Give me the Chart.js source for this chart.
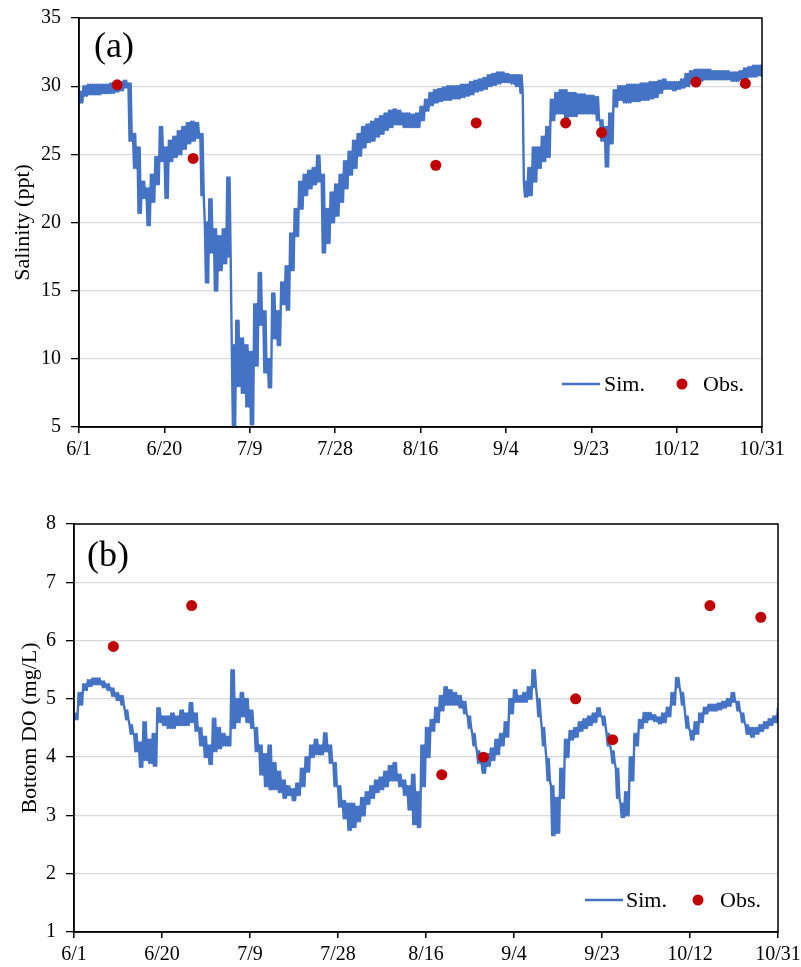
<!DOCTYPE html>
<html><head><meta charset="utf-8">
<script src="https://cdn.jsdelivr.net/npm/chart.js@4.4.1/dist/chart.umd.min.js"></script>
<style>
html,body{margin:0;padding:0;background:#fff;}
#wrap{position:relative;width:801px;height:967px;background:#fff;}
canvas{position:absolute;left:0;}
</style></head><body>
<div id="wrap">
<canvas id="ca" width="801" height="480" style="top:0px"></canvas>
<canvas id="cb" width="801" height="487" style="top:480px"></canvas>
</div>
<script>
// x-axis tick labels (every 19 days from 6/1)
const dateLabels = ['6/1','6/20','7/9','7/28','8/16','9/4','9/23','10/12','10/31'];
// observation days (days since 6/1)
const obsDays = [8.5, 25.4, 79.4, 88.4, 108.3, 116.3, 137.3, 148.3];
const obsSalinity = [30.1, 24.7, 24.2, 27.3, 27.3, 26.6, 30.3, 30.2];
const obsDO = [5.9, 6.6, 3.7, 4.0, 5.0, 4.3, 6.6, 6.4];

// simulated salinity, daily tidal high / low (day 0 .. 152)
const simSalHi = [29.6,30.0,30.1,30.1,30.1,30.1,30.1,30.2,30.2,30.3,30.4,
30.2,26.5,25.5,23.0,22.5,23.5,24.8,27.0,25.5,26.0,
26.3,26.7,27.0,27.3,27.4,27.3,26.5,20.0,21.7,19.5,
19.0,19.5,23.3,11.0,12.8,11.5,11.0,10.5,14.0,16.3,
13.5,10.0,14.8,13.5,15.6,16.8,19.2,21.0,23.0,23.5,
23.8,24.0,24.9,23.5,21.0,22.2,22.8,23.5,24.5,25.2,
26.0,26.5,27.0,27.2,27.4,27.6,27.8,28.0,28.2,28.3,
28.2,28.0,28.0,27.9,28.0,28.5,29.0,29.5,29.7,29.8,
29.9,30.0,30.0,30.0,30.1,30.1,30.3,30.4,30.5,30.6,
30.8,30.9,31.0,31.0,30.9,30.8,30.8,30.8,23.0,24.0,
25.5,25.5,26.3,27.0,29.0,29.5,29.7,29.7,29.5,29.5,
29.4,29.4,29.3,29.3,29.2,27.5,27.0,28.0,29.7,30.0,
30.0,30.1,30.1,30.1,30.2,30.2,30.3,30.3,30.4,30.5,
30.3,30.3,30.3,30.5,30.9,31.1,31.2,31.2,31.2,31.2,
31.1,31.1,31.1,31.1,31.0,31.0,31.1,31.3,31.4,31.5,
31.5,31.6];
const simSalLo = [28.8,29.3,29.4,29.4,29.4,29.5,29.5,29.5,29.6,29.7,29.9,
26.0,24.0,20.7,21.8,19.8,21.5,22.8,24.5,21.8,24.5,
24.8,25.0,25.4,25.8,26.0,26.2,22.0,15.6,17.8,15.0,
16.5,17.0,17.5,5.0,8.0,7.5,6.5,5.2,9.5,12.5,
9.0,7.9,11.5,11.0,14.0,13.6,16.5,19.0,21.0,22.0,
22.5,22.8,23.0,17.8,18.5,20.0,20.5,21.5,22.5,23.5,
24.0,24.9,25.5,25.9,26.0,26.3,26.5,26.8,27.0,27.2,
27.2,27.0,27.0,27.0,27.0,27.5,28.2,28.6,28.8,28.9,
29.0,29.0,29.1,29.1,29.2,29.3,29.4,29.6,29.7,29.8,
30.0,30.1,30.2,30.3,30.3,30.2,30.0,29.5,21.9,22.0,
23.0,24.0,24.5,24.8,27.5,28.0,28.0,27.5,27.8,27.8,
28.0,28.0,28.0,28.0,27.5,26.0,24.1,25.8,28.5,29.0,
28.8,28.8,28.9,28.9,29.0,29.0,29.1,29.2,29.5,29.8,
29.8,29.7,29.8,29.9,30.0,30.2,30.3,30.4,30.5,30.5,
30.5,30.5,30.5,30.5,30.4,30.4,30.5,30.6,30.7,30.7,
30.8,30.9];

// simulated bottom DO, daily tidal high / low (day 0 .. 152)
const simDOHi = [4.75,5.1,5.25,5.32,5.35,5.35,5.3,5.25,5.18,5.1,5.05,
4.8,4.55,4.4,4.25,4.6,4.3,4.4,4.84,4.7,4.7,
4.75,4.7,4.8,4.75,4.93,4.75,4.5,4.35,4.2,4.66,
4.5,4.4,4.35,5.49,5.0,5.1,5.0,4.8,4.5,4.2,
4.05,4.2,3.9,3.75,3.6,3.5,3.45,3.55,3.8,4.0,
4.2,4.3,4.2,4.41,4.2,3.9,3.5,3.25,3.2,3.2,
3.15,3.3,3.4,3.5,3.6,3.65,3.75,3.85,3.9,3.7,
3.6,3.5,3.7,3.4,4.2,4.5,4.64,4.85,5.05,5.2,
5.15,5.1,5.05,4.95,4.7,4.4,4.1,3.9,4.05,4.15,
4.3,4.4,4.6,5.0,5.15,5.05,5.1,5.2,5.49,5.0,
4.5,3.97,3.5,3.3,3.8,4.3,4.45,4.5,4.6,4.65,
4.7,4.75,4.84,4.7,4.4,4.1,3.8,3.2,3.4,4.0,
4.4,4.64,4.76,4.76,4.72,4.68,4.75,4.85,5.1,5.36,
5.1,4.7,4.45,4.6,4.75,4.85,4.9,4.9,4.92,4.95,
5.0,5.1,4.95,4.75,4.55,4.5,4.5,4.55,4.6,4.65,
4.7,4.85];
const simDOLo = [4.65,4.9,5.15,5.22,5.25,5.25,5.2,5.15,5.05,4.98,4.9,
4.65,4.4,4.1,3.83,3.95,3.9,3.85,4.6,4.55,4.5,
4.5,4.55,4.55,4.55,4.6,4.45,4.2,4.0,3.88,4.1,
4.15,4.2,4.2,4.5,4.6,4.7,4.6,4.5,4.1,3.7,
3.5,3.45,3.45,3.4,3.3,3.35,3.26,3.35,3.5,3.75,
4.0,4.05,4.05,4.1,3.9,3.5,3.15,2.95,2.75,2.8,
2.9,3.0,3.2,3.3,3.4,3.45,3.5,3.6,3.6,3.5,
3.35,3.1,2.85,2.8,3.5,4.0,4.45,4.6,4.8,4.9,
4.9,4.9,4.85,4.75,4.5,4.2,3.9,3.73,3.85,3.95,
4.05,4.2,4.35,4.75,4.95,4.95,4.95,5.0,5.2,4.7,
4.2,3.6,2.66,2.7,3.3,4.0,4.3,4.35,4.45,4.5,
4.55,4.6,4.7,4.55,4.2,3.9,3.3,2.97,3.0,3.6,
4.2,4.5,4.6,4.65,4.62,4.58,4.6,4.7,4.9,5.2,
4.9,4.5,4.3,4.4,4.6,4.75,4.8,4.8,4.82,4.85,
4.88,4.95,4.8,4.6,4.4,4.35,4.4,4.45,4.5,4.55,
4.6,4.7];

const FONT = "'Liberation Serif','Times New Roman',serif";
const BLUE = '#4472C4';
const RED = '#C00000';

// two tidal cycles per day: high, low, high, low
function tidal(hi, lo) {
  const pts = [];
  for (let i = 0; i < hi.length; i++) {
    pts.push({x: i, y: hi[i]});
    if (i < hi.length - 1) {
      pts.push({x: i + 0.25, y: lo[i]});
      pts.push({x: i + 0.5, y: hi[i]});
      pts.push({x: i + 0.75, y: lo[i]});
    }
  }
  return pts;
}
function pairs(xs, ys) { return xs.map((x, i) => ({x: x, y: ys[i]})); }

const deco = {
  id: 'deco',
  afterDraw(chart, args, o) {
    const ctx = chart.ctx, a = chart.chartArea;
    ctx.save();
    ctx.strokeStyle = '#000'; ctx.lineWidth = 1.5;
    ctx.strokeRect(a.left, a.top, a.right - a.left, a.bottom - a.top);
    ctx.fillStyle = '#000';
    ctx.textBaseline = 'middle'; ctx.textAlign = 'left';
    ctx.font = '36px ' + FONT;
    ctx.fillText(o.tag, o.tagX, o.tagY);
    const ds = chart.data.datasets;
    const L = o.leg;
    ctx.strokeStyle = BLUE; ctx.lineWidth = 2.5;
    ctx.beginPath(); ctx.moveTo(L.x1, L.y); ctx.lineTo(L.x2, L.y); ctx.stroke();
    ctx.font = '22px ' + FONT; ctx.fillStyle = '#000';
    ctx.fillText(ds[1].label, L.tx1, L.y + 1);
    ctx.fillStyle = RED;
    ctx.beginPath(); ctx.arc(L.dx, L.y, 5.5, 0, Math.PI * 2); ctx.fill();
    ctx.fillStyle = '#000';
    ctx.fillText(ds[0].label, L.tx2, L.y + 1);
    ctx.restore();
  }
};

function makeChart(id, c) {
  new Chart(document.getElementById(id), {
    type: 'scatter',
    data: {
      datasets: [
        {label: 'Obs.', data: pairs(obsDays, c.obs), pointRadius: 5.5, pointBackgroundColor: RED,
         pointBorderWidth: 0, showLine: false, order: 0},
        {label: 'Sim.', data: tidal(c.hi, c.lo), showLine: true, pointRadius: 0, borderColor: BLUE,
         borderWidth: 2.4, borderJoinStyle: 'round', tension: 0, order: 1}
      ]
    },
    options: {
      responsive: false, animation: false, devicePixelRatio: 1,
      layout: {padding: {top: c.top, right: c.right, left: 0, bottom: 0}},
      plugins: {legend: {display: false}, tooltip: {enabled: false},
        deco: {tag: c.tag, tagX: c.tagX, tagY: c.tagY, leg: c.leg}},
      scales: {
        x: {
          type: 'linear', min: 0, max: 152,
          ticks: {stepSize: 19, autoSkip: false, maxRotation: 0, minRotation: 0, color: '#000',
            font: {family: FONT, size: 20}, padding: 5,
            callback: (v) => { const k = Math.round(v / 19); return Math.abs(v - k * 19) < 1e-6 ? dateLabels[k] : ''; }},
          grid: {drawOnChartArea: false, drawTicks: true, tickLength: 6, color: '#000', lineWidth: 1.5},
          border: {color: '#000', width: 1.5},
          afterFit(s) { s.height = c.xh; s.paddingLeft = 0; s.paddingRight = 0; }
        },
        y: {
          min: c.ymin, max: c.ymax,
          ticks: {stepSize: c.ystep, color: '#000', font: {family: FONT, size: 20}, padding: 10},
          grid: {color: '#d9d9d9', lineWidth: 1.3, tickColor: '#000', tickLength: 8},
          border: {color: '#000', width: 1.5},
          title: {display: true, text: c.title, color: '#000', font: {family: FONT, size: 22},
            padding: {top: c.titlePad, bottom: 0}},
          afterFit(s) { s.width = c.left; s.paddingTop = 0; s.paddingBottom = 0; }
        }
      }
    },
    plugins: [deco]
  });
}

makeChart('ca', {
  obs: obsSalinity, hi: simSalHi, lo: simSalLo,
  ymin: 5, ymax: 35, ystep: 5, title: 'Salinity (ppt)', titlePad: 10,
  top: 18, right: 39, left: 79, xh: 53,
  tag: '(a)', tagX: 94, tagY: 48,
  leg: {x1: 562, x2: 600, y: 384, tx1: 604, dx: 682, tx2: 703}
});
makeChart('cb', {
  obs: obsDO, hi: simDOHi, lo: simDOLo,
  ymin: 1, ymax: 8, ystep: 1, title: 'Bottom DO (mg/L)', titlePad: 17,
  top: 44, right: 23, left: 74, xh: 35,
  tag: '(b)', tagX: 87, tagY: 77,
  leg: {x1: 585, x2: 623, y: 420, tx1: 626, dx: 698, tx2: 720}
});
</script>
</body></html>
